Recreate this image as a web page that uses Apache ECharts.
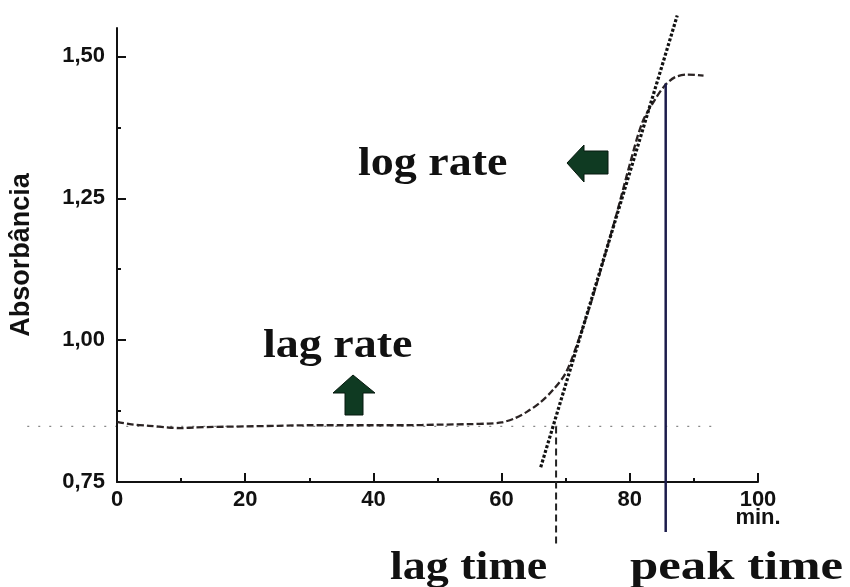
<!DOCTYPE html>
<html>
<head>
<meta charset="utf-8">
<title>Absorbância</title>
<script src="https://cdn.jsdelivr.net/npm/echarts@6/dist/echarts.min.js"></script>
<style>
  html, body { margin: 0; padding: 0; background: #fff; }
  #chart { width: 850px; height: 587px; }
</style>
</head>
<body>
<div id="chart"></div>
<script>
// curva de absorbância (min, abs)
var timeMin = [0, 2, 5, 8, 10, 12, 15, 20, 25, 30, 35, 40, 45, 50, 55, 58, 60, 62, 64, 66, 68, 70, 72, 74, 76, 78, 80, 82, 84, 85.5, 87, 89, 91.5];
var absValues = [0.856, 0.852, 0.849, 0.846, 0.845, 0.846, 0.847, 0.848, 0.849, 0.850, 0.850, 0.850, 0.850, 0.851, 0.852, 0.853, 0.855, 0.862, 0.874, 0.890, 0.912, 0.942, 1.000, 1.068, 1.145, 1.225, 1.310, 1.385, 1.425, 1.449, 1.463, 1.468, 1.466];
// tangente (log rate)
var tangentX = [66.1, 87.4];
var tangentY = [0.776, 1.572];
// linha de base (lag rate)
var baseX = [-14, 94];
var baseY = [0.848, 0.848];
// lag time / peak time
var lagX = [68.5, 68.5];
var lagY = [0.848, 0.637];
var peakX = [85.6, 85.6];
var peakY = [1.452, 0.662];
// ticks
var yTicks = [0.75, 1.00, 1.25, 1.50];
var yMinorTicks = [0.875, 1.125, 1.375];

function pairs(xs, ys) {
  return xs.map(function (x, i) { return [x, ys[i]]; });
}

var myChart = echarts.init(document.getElementById('chart'));
var sansBold = { fontFamily: 'Liberation Sans', fontWeight: 'bold', color: '#111' };
var serifFont = 'bold 40px "Liberation Serif"';

var option = {
  backgroundColor: '#fff',
  animation: false,
  grid: { left: 117, right: 92, top: 28, bottom: 105, outerBoundsMode: 'none', containLabel: false },
  xAxis: {
    type: 'value',
    min: 0,
    max: 100,
    interval: 20,
    axisLine: { lineStyle: { color: '#111', width: 2 } },
    axisTick: { inside: true, length: 9, lineStyle: { color: '#111', width: 2 } },
    minorTick: { show: true, splitNumber: 2, length: 4, lineStyle: { color: '#111', width: 2 } },
    splitLine: { show: false },
    axisLabel: Object.assign({
      fontSize: 22,
      margin: 9,
      lineHeight: 18,
      formatter: function (v) { return v === 100 ? '100\nmin.' : String(v); }
    }, sansBold)
  },
  yAxis: [
    {
      type: 'value',
      position: 'left',
      min: 0.75,
      max: 1.55,
      name: 'Absorbância',
      nameLocation: 'middle',
      nameGap: 82,
      nameTextStyle: { fontFamily: 'Liberation Sans', fontWeight: 'bold', fontSize: 27, color: '#111' },
      axisLine: { show: true, lineStyle: { color: '#111', width: 2 } },
      axisTick: { inside: true, length: 9, customValues: yTicks, lineStyle: { color: '#111', width: 2 } },
      splitLine: { show: false },
      axisLabel: Object.assign({
        fontSize: 22,
        margin: 12,
        customValues: yTicks,
        formatter: function (v) { return v.toFixed(2).replace('.', ','); }
      }, sansBold)
    },
    {
      type: 'value',
      position: 'left',
      min: 0.75,
      max: 1.55,
      axisLine: { show: false },
      axisTick: { show: true, inside: true, length: 4, customValues: yMinorTicks, lineStyle: { color: '#111', width: 2 } },
      axisLabel: { show: false },
      splitLine: { show: false }
    }
  ],
  series: [
    {
      type: 'line',
      data: pairs(timeMin, absValues),
      symbol: 'none',
      smooth: 0.3,
      lineStyle: { color: '#2b2323', width: 2.3, type: [7, 3] }
    },
    {
      type: 'line',
      data: pairs(tangentX, tangentY),
      symbol: 'none',
      clip: false,
      lineStyle: { color: '#111', width: 3.2, type: [3, 2] }
    },
    {
      type: 'line',
      data: pairs(lagX, lagY),
      symbol: 'none',
      clip: false,
      lineStyle: { color: '#222', width: 2, type: [7, 4] }
    },
    {
      type: 'line',
      data: pairs(peakX, peakY),
      symbol: 'none',
      clip: false,
      lineStyle: { color: '#1c1c4c', width: 2.5 }
    }
  ],
  graphic: [
    { type: 'text', x: 358, y: 165, scaleX: 1.15, style: { text: 'log rate', font: serifFont, fill: '#111', verticalAlign: 'middle' } },
    { type: 'text', x: 263, y: 347, scaleX: 1.15, style: { text: 'lag rate', font: serifFont, fill: '#111', verticalAlign: 'middle' } },
    { type: 'text', x: 390, y: 569, scaleX: 1.15, style: { text: 'lag time', font: serifFont, fill: '#111', verticalAlign: 'middle' } },
    { type: 'text', x: 630, y: 569, scaleX: 1.27, style: { text: 'peak time', font: serifFont, fill: '#111', verticalAlign: 'middle' } },
    // setas
    {
      type: 'polygon',
      shape: { points: [[353, 375], [375, 393], [363, 393], [363, 415], [345, 415], [345, 393], [333, 393]] },
      style: { fill: '#0f3a22', stroke: '#07190e', lineWidth: 1 }
    },
    {
      type: 'polygon',
      shape: { points: [[567, 163], [584, 145], [584, 151], [608, 151], [608, 174], [584, 174], [584, 182]] },
      style: { fill: '#0f3a22', stroke: '#07190e', lineWidth: 1 }
    }
  ]
};
myChart.setOption(option);

// linha de base pontilhada, passa à esquerda do eixo y
var p0 = myChart.convertToPixel({ gridIndex: 0 }, [baseX[0], baseY[0]]);
var p1 = myChart.convertToPixel({ gridIndex: 0 }, [baseX[1], baseY[1]]);
myChart.setOption({
  graphic: [{
    id: 'baseline',
    type: 'line',
    z: -1,
    shape: { x1: p0[0], y1: p0[1], x2: p1[0], y2: p1[1] },
    style: { stroke: '#888', lineWidth: 1.4, lineDash: [2, 9] }
  }]
});
</script>
</body>
</html>
